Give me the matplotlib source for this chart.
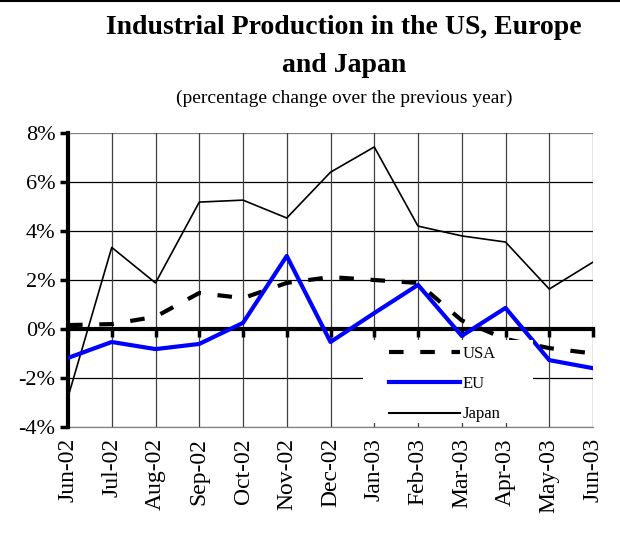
import matplotlib
matplotlib.use("Agg")
import matplotlib.pyplot as plt
from matplotlib.lines import Line2D
from matplotlib.patches import Rectangle

# datos (variacion % anual)
meses = ['Jun-02', 'Jul-02', 'Aug-02', 'Sep-02', 'Oct-02', 'Nov-02', 'Dec-02',
         'Jan-03', 'Feb-03', 'Mar-03', 'Apr-03', 'May-03', 'Jun-03']
usa = [0.16, 0.2, 0.5, 1.47, 1.26, 1.88, 2.12, 2.0, 1.88, 0.35, -0.41, -0.78, -1.0]
eu = [-1.18, -0.53, -0.82, -0.61, 0.25, 2.98, -0.53, 0.65, 1.8, -0.28, 0.86, -1.27, -1.6]
japon = [-2.78, 3.33, 1.88, 5.18, 5.26, 4.53, 6.4, 7.43, 4.2, 3.8, 3.55, 1.63, 2.73]
y_ticks = [-4, -2, 0, 2, 4, 6, 8]

plt.rcParams['font.family'] = ['Liberation Serif', 'DejaVu Serif']

fig = plt.figure(figsize=(6.2, 5.41), dpi=100)
ax = fig.add_axes([68/620, 1-427/541, (593-68)/620, (427-133)/541])
x = list(range(len(meses)))

# grilla
for v in y_ticks:
    if v == 0:
        continue
    col = '#808080' if v in (8, -4) else 'black'
    ax.axhline(v, color=col, lw=0.9, zorder=1)
for xi in x[1:]:
    ax.axvline(xi, color='#404040', lw=0.9, zorder=1)

punteado = (0, (3.5, 4))
ax.plot(x, japon, color='black', lw=1.2, zorder=4)
ax.plot(x, usa, color='black', lw=3, ls=punteado, zorder=3)
ax.plot(x, eu, color='#0000ff', lw=3, zorder=5)

ax.set_xlim(0, 12)
ax.set_ylim(-4, 8)
ax.set_yticks(y_ticks, [f'{v}%' for v in y_ticks])
ax.tick_params(axis='y', direction='out', length=6, width=2.5, labelsize=16, pad=3)

# eje x en el cero con marcas hacia abajo
for s in ['top', 'right']:
    ax.spines[s].set_visible(False)
ax.spines['left'].set_linewidth(3)
ax.spines['bottom'].set_position(('data', 0))
ax.spines['bottom'].set_linewidth(3)
ax.spines['bottom'].set_zorder(2)
ax.set_xticks(x)
ax.tick_params(axis='x', direction='out', length=6, width=2.5, labelbottom=False)

# etiquetas de meses abajo
sec = ax.secondary_xaxis(0)
sec.set_xticks(x, meses, rotation=90)
sec.tick_params(length=0, labelsize=17, pad=8)
sec.spines['bottom'].set_color('#808080')
sec.spines['bottom'].set_linewidth(0.9)

# fondo blanco de la leyenda
fig.add_artist(Rectangle((363/620, 1-423/541), 170/620, 83/541, facecolor='white',
                         edgecolor='none', zorder=2))

handles = [Line2D([], [], color='black', lw=3, ls=punteado),
           Line2D([], [], color='#0000ff', lw=3),
           Line2D([], [], color='black', lw=1.5)]
leg = fig.legend(handles, ['USA', 'EU', 'Japan'], loc='upper left',
                 bbox_to_anchor=(389/620, 1-346/541), frameon=False,
                 fontsize=12, handlelength=4.25, handletextpad=0.15,
                 labelspacing=0.85, borderpad=0, borderaxespad=0)

fig.text(344/620, 1-28/541, 'Industrial Production in the US, Europe', ha='center', va='center',
         fontsize=20, fontweight='bold')
fig.text(344/620, 1-66/541, 'and Japan', ha='center', va='center', fontsize=20, fontweight='bold')
fig.text(344/620, 1-98/541, '(percentage change over the previous year)', ha='center', va='center',
         fontsize=14)
fig.add_artist(Line2D([0, 1], [0.999, 0.999], color='black', lw=1.5))

fig.savefig('out.png', dpi=100)
